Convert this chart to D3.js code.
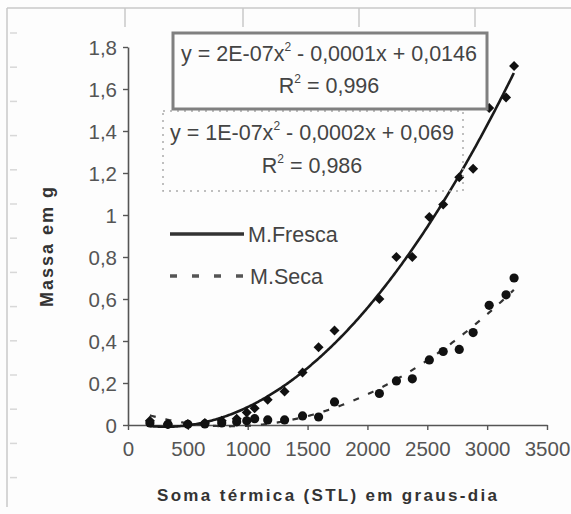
<!DOCTYPE html>
<html>
  <head>
    <meta charset="utf-8" />
    <title>Massa vs Soma termica</title>
    <script src="https://d3js.org/d3.v7.min.js"></script>
    <style>
        body {
            margin: 0;
            background: #fdfdfd;
        }
        text {
            font-family: "Liberation Sans", Arial, sans-serif;
        }
    </style>
  </head>
  <body>
    <svg id="chart"></svg>

    <script>
        // soma termica (graus-dia) of each sampling
        var stl = [183, 333, 500, 642, 783, 908, 992, 1058, 1167, 1308, 1458, 1592, 1725,
                   2100, 2242, 2375, 2517, 2633, 2767, 2883, 3017, 3158, 3225];
        // massa fresca (g)
        var fresca = [0.02, 0.005, 0.005, 0.01, 0.02, 0.03, 0.06, 0.08, 0.12, 0.16, 0.25, 0.37, 0.45,
                      0.60, 0.80, 0.80, 0.99, 1.05, 1.18, 1.22, 1.51, 1.56, 1.71];
        // massa seca (g)
        var seca = [0.01, 0.003, 0.003, 0.005, 0.01, 0.015, 0.02, 0.03, 0.024, 0.024, 0.043, 0.038, 0.11,
                    0.15, 0.21, 0.22, 0.31, 0.35, 0.36, 0.44, 0.57, 0.62, 0.70];

        var xTicks = [0, 500, 1000, 1500, 2000, 2500, 3000, 3500];
        var yTicks = [0, 0.2, 0.4, 0.6, 0.8, 1, 1.2, 1.4, 1.6, 1.8];

        var eqFresca = ["y = 2E-07x", " - 0,0001x + 0,0146", "R", " = 0,996"];
        var eqSeca = ["y = 1E-07x", " - 0,0002x + 0,069", "R", " = 0,986"];

        var width = 571, height = 514;
        var svg = d3.select("#chart").attr("width", width).attr("height", height);

        var x = d3.scaleLinear().domain([0, 3500]).range([128, 547]);
        var y = d3.scaleLinear().domain([0, 1.8]).range([425, 47]);

        // scan frame leftovers
        var frame = svg.append("g").attr("stroke", "#c8c8c8").attr("stroke-width", 1.5);
        frame.append("line").attr("x1", 7).attr("y1", 8).attr("x2", 7).attr("y2", 507);
        frame.append("line").attr("x1", 7).attr("y1", 8).attr("x2", 571).attr("y2", 8);
        frame.selectAll(".vm").data([125, 243, 359, 475]).enter().append("line")
            .attr("x1", function(d) { return d; }).attr("x2", function(d) { return d; })
            .attr("y1", 8).attr("y2", 27);
        frame.selectAll(".hm").data(d3.range(33, 490, 34.2)).enter().append("line")
            .attr("stroke", "#d8d8d8")
            .attr("x1", 10).attr("x2", 17)
            .attr("y1", function(d) { return d; }).attr("y2", function(d) { return d; });

        // quadratic least squares fit
        function polyFit(xs, ys) {
            var s = [0, 0, 0, 0, 0], t = [0, 0, 0];
            xs.forEach(function(xv, i) {
                for (var k = 0; k < 5; k++) s[k] += Math.pow(xv, k);
                for (var k = 0; k < 3; k++) t[k] += ys[i] * Math.pow(xv, k);
            });
            var m = [[s[0], s[1], s[2], t[0]], [s[1], s[2], s[3], t[1]], [s[2], s[3], s[4], t[2]]];
            for (var i = 0; i < 3; i++) {
                for (var j = i + 1; j < 3; j++) {
                    var f = m[j][i] / m[i][i];
                    for (var k = i; k < 4; k++) m[j][k] -= f * m[i][k];
                }
            }
            var c = [0, 0, 0];
            for (var i = 2; i >= 0; i--) {
                var v = m[i][3];
                for (var k = i + 1; k < 3; k++) v -= m[i][k] * c[k];
                c[i] = v / m[i][i];
            }
            return function(xv) { return c[0] + c[1] * xv + c[2] * xv * xv; };
        }

        var fitF = polyFit(stl, fresca);
        var fitS = polyFit(stl, seca);
        var xs = d3.range(d3.min(stl), d3.max(stl) + 1, 10);

        var line = d3.line()
            .x(function(d) { return x(d[0]); })
            .y(function(d) { return y(d[1]); });

        // axes
        var yAxis = svg.append("g").attr("transform", "translate(128,0)")
            .call(d3.axisLeft(y).tickValues(yTicks).tickSize(5).tickSizeOuter(0)
                .tickFormat(function(d) { return String(d).replace(".", ","); }));
        var xAxis = svg.append("g").attr("transform", "translate(0,425)")
            .call(d3.axisBottom(x).tickValues(xTicks).tickSize(5).tickSizeOuter(0)
                .tickFormat(function(d) { return d; }));

        [yAxis, xAxis].forEach(function(a) {
            a.select(".domain").attr("stroke", "#555").attr("stroke-width", 1.6);
            a.selectAll(".tick line").attr("stroke", "#555").attr("stroke-width", 1.4);
            a.selectAll(".tick text").attr("fill", "#555").style("font-size", "20.5px");
        });
        yAxis.selectAll(".tick text").attr("x", -11).attr("dy", "0.36em");
        xAxis.selectAll(".tick text").attr("y", 31).attr("dy", "0");

        // trend lines
        svg.append("path")
            .datum(xs.map(function(v) { return [v, fitS(v)]; }))
            .attr("d", line).attr("fill", "none")
            .attr("stroke", "#333").attr("stroke-width", 2.2).attr("stroke-dasharray", "6,10");
        svg.append("path")
            .datum(xs.map(function(v) { return [v, fitF(v)]; }))
            .attr("d", line).attr("fill", "none")
            .attr("stroke", "#1a1a1a").attr("stroke-width", 2.6);

        // points
        svg.append("g").selectAll("circle").data(seca).enter().append("circle")
            .attr("cx", function(d, i) { return x(stl[i]); })
            .attr("cy", function(d) { return y(d); })
            .attr("r", 4.6).attr("fill", "#111");
        svg.append("g").selectAll("path").data(fresca).enter().append("path")
            .attr("transform", function(d, i) { return "translate(" + x(stl[i]) + "," + y(d) + ")"; })
            .attr("d", d3.symbol().type(d3.symbolDiamond2).size(64))
            .attr("fill", "#111");

        // equation boxes
        svg.append("rect").attr("x", 163).attr("y", 111).attr("width", 300).attr("height", 80)
            .attr("fill", "none").attr("stroke", "#aaa").attr("stroke-width", 1.5)
            .attr("stroke-dasharray", "2,5");
        svg.append("rect").attr("x", 173).attr("y", 33).attr("width", 314).attr("height", 76)
            .attr("fill", "#fdfdfd").attr("stroke", "#808080").attr("stroke-width", 3);

        function equation(eq, cx, y1, y2) {
            var t1 = svg.append("text").attr("x", cx).attr("y", y1).attr("text-anchor", "middle")
                .attr("fill", "#444").style("font-size", "21.5px");
            t1.append("tspan").text(eq[0]);
            t1.append("tspan").attr("dy", -10).style("font-size", "12px").text("2");
            t1.append("tspan").attr("dy", 10).text(eq[1]);
            var t2 = svg.append("text").attr("x", cx).attr("y", y2).attr("text-anchor", "middle")
                .attr("fill", "#444").style("font-size", "21.5px");
            t2.append("tspan").text(eq[2]);
            t2.append("tspan").attr("dy", -10).style("font-size", "12px").text("2");
            t2.append("tspan").attr("dy", 10).text(eq[3]);
        }
        equation(eqFresca, 329, 61, 93);
        equation(eqSeca, 312, 140, 173);

        // legend
        var legend = svg.append("g");
        legend.append("line").attr("x1", 170).attr("x2", 244).attr("y1", 234).attr("y2", 234)
            .attr("stroke", "#333").attr("stroke-width", 3.5);
        legend.append("line").attr("x1", 170).attr("x2", 248).attr("y1", 276).attr("y2", 276)
            .attr("stroke", "#555").attr("stroke-width", 3.5).attr("stroke-dasharray", "7,15");
        legend.append("text").attr("x", 248).attr("y", 242).attr("fill", "#444")
            .style("font-size", "21.5px").text("M.Fresca");
        legend.append("text").attr("x", 250).attr("y", 284).attr("fill", "#444")
            .style("font-size", "21.5px").text("M.Seca");

        // axis titles
        svg.append("text").attr("transform", "translate(53,247) rotate(-90)")
            .attr("text-anchor", "middle").attr("fill", "#333")
            .style("font-size", "18px").style("font-weight", "bold")
            .attr("textLength", 120).attr("lengthAdjust", "spacing")
            .text("Massa em g");
        svg.append("text").attr("x", 327).attr("y", 501)
            .attr("text-anchor", "middle").attr("fill", "#333")
            .style("font-size", "17px").style("font-weight", "bold")
            .attr("textLength", 340).attr("lengthAdjust", "spacing")
            .text("Soma térmica (STL) em graus-dia");
    </script>
  </body>
</html>
